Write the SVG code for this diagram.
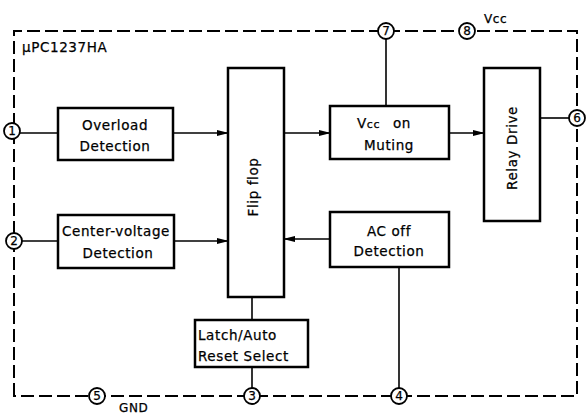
<svg xmlns="http://www.w3.org/2000/svg" width="587" height="414" viewBox="0 0 587 414">
<defs>
<style>
.box{fill:#fff;stroke:#000;stroke-width:2.5}
.ln{fill:none;stroke:#000;stroke-width:1.6}
.dash{fill:none;stroke:#000;stroke-width:2;stroke-dasharray:13 5}
.pin{fill:#fff;stroke:#000;stroke-width:1.8}
text{font-family:"DejaVu Sans","Liberation Sans",sans-serif;font-size:13.5px;letter-spacing:0.6px;fill:#000;stroke:#000;stroke-width:0.25}
.pt{font-size:12px;letter-spacing:0;text-anchor:middle}
.c{text-anchor:middle}
</style>
<marker id="ah" markerWidth="12" markerHeight="8" refX="11" refY="4" orient="auto" markerUnits="userSpaceOnUse">
<path d="M0,1 L12,4 L0,7 Z" fill="#000"/>
</marker>
</defs>
<g id="border">
<path class="dash" d="M14,396 V31 H577 V396 Z"/>
<text x="22" y="52" style="font-size:13.5px">μPC1237HA</text>
<text x="484" y="23" style="font-size:12px">Vcc</text>
<text x="119" y="412" style="font-size:12px">GND</text>
</g>
<g id="connectors">
<line class="ln" x1="20" y1="133" x2="58" y2="133"/>
<line class="ln" x1="22" y1="241" x2="58" y2="241"/>
<line class="ln" x1="173" y1="133" x2="228" y2="133" marker-end="url(#ah)"/>
<line class="ln" x1="174" y1="241" x2="228" y2="241" marker-end="url(#ah)"/>
<line class="ln" x1="284" y1="133" x2="330" y2="133" marker-end="url(#ah)"/>
<line class="ln" x1="449" y1="133" x2="484" y2="133" marker-end="url(#ah)"/>
<line class="ln" x1="330" y1="239" x2="284" y2="239" marker-end="url(#ah)"/>
<line class="ln" x1="540" y1="118" x2="569" y2="118"/>
<line class="ln" x1="386" y1="39" x2="386" y2="106"/>
<line class="ln" x1="399" y1="267" x2="399" y2="388"/>
<line class="ln" x1="252" y1="297" x2="252" y2="320"/>
<line class="ln" x1="252" y1="367" x2="252" y2="388"/>
</g>
<g id="pin1"><circle class="pin" cx="12" cy="131" r="8"/><text class="pt" x="12" y="135">1</text></g>
<g id="pin2"><circle class="pin" cx="14" cy="241" r="8"/><text class="pt" x="14" y="245">2</text></g>
<g id="pin3"><circle class="pin" cx="252" cy="396" r="8"/><text class="pt" x="252" y="400">3</text></g>
<g id="pin4"><circle class="pin" cx="399" cy="396" r="8"/><text class="pt" x="399" y="400">4</text></g>
<g id="pin5"><circle class="pin" cx="97" cy="396" r="8"/><text class="pt" x="97" y="400">5</text></g>
<g id="pin6"><circle class="pin" cx="577" cy="118" r="8"/><text class="pt" x="577" y="122">6</text></g>
<g id="pin7"><circle class="pin" cx="386" cy="31" r="8"/><text class="pt" x="386" y="35">7</text></g>
<g id="pin8"><circle class="pin" cx="467" cy="31" r="8"/><text class="pt" x="467" y="35">8</text></g>
<g id="overload"><rect class="box" x="58" y="108" width="115" height="52"/><text class="c" x="115" y="130">Overload</text><text class="c" x="115" y="151">Detection</text></g>
<g id="center"><rect class="box" x="58" y="215" width="116" height="53"/><text class="c" x="116" y="236">Center-voltage</text><text class="c" x="118" y="258">Detection</text></g>
<g id="flipflop"><rect class="box" x="228" y="68" width="56" height="229"/><text class="c" transform="translate(258,187) rotate(-90)">Flip flop</text></g>
<g id="latch"><rect class="box" x="195" y="320" width="113" height="47"/><text x="198" y="340">Latch/Auto</text><text x="198" y="361">Reset Select</text></g>
<g id="muting"><rect class="box" x="330" y="106" width="119" height="53"/><text x="357" y="128">V<tspan style="font-size:11px">cc</tspan><tspan x="393">on</tspan></text><text class="c" x="389" y="150">Muting</text></g>
<g id="relay"><rect class="box" x="484" y="68" width="56" height="153"/><text class="c" transform="translate(517,148) rotate(-90)">Relay Drive</text></g>
<g id="acoff"><rect class="box" x="330" y="212" width="119" height="55"/><text class="c" x="389" y="236">AC off</text><text class="c" x="389" y="256">Detection</text></g>
</svg>
